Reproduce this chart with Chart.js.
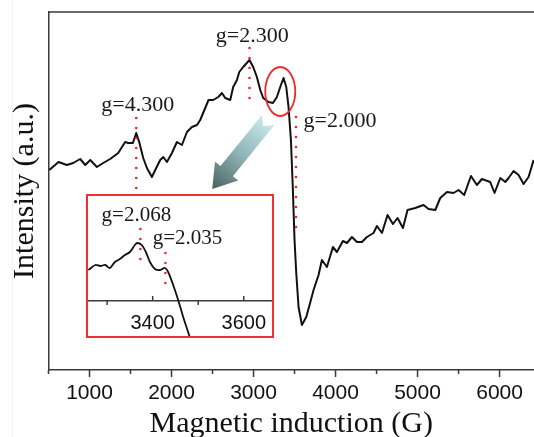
<!DOCTYPE html>
<html lang="en">
<head>
  <meta charset="UTF-8" />
  <title>EPR spectrum</title>
  <script src="https://cdn.jsdelivr.net/npm/chart.js"></script>
  <style>
    html, body { margin:0; padding:0; background:#fff; }
    #wrap { position:relative; width:534px; height:437px; overflow:hidden; }
    #mainChart { position:absolute; left:0; top:0; }
    #edge { position:absolute; left:12px; top:0; width:1px; height:437px; background:#f3f3f3; }
    #insetBox {
      position:absolute; left:86px; top:194px;
      width:184px; height:140px;
      border:2px solid #f03030; background:#fff;
    }
    #insetChart { display:block; }
  </style>
</head>
<body>
  <div id="wrap">
    <div id="edge"></div>
    <canvas id="mainChart" width="534" height="437"></canvas>
    <div id="insetBox"><canvas id="insetChart" width="184" height="140"></canvas></div>
  </div>

  <script>
    // spectrum (field in G, intensity in a.u.)
    const fieldG = [510, 622, 724, 801, 887, 948, 1009, 1090, 1167, 1252,
      1350, 1435, 1472, 1529, 1570, 1606, 1655, 1700, 1761, 1801,
      1862, 1899, 1944, 2005, 2066, 2127, 2188, 2249, 2310, 2350,
      2411, 2451, 2509, 2570, 2615, 2655, 2716, 2752, 2798, 2826,
      2874, 2951, 2996, 3041, 3082, 3118, 3183, 3237, 3285, 3334,
      3366, 3399, 3427, 3456, 3480, 3500, 3521, 3549, 3590, 3643,
      3690, 3732, 3793, 3834, 3895, 3968, 4017, 4090, 4139, 4200,
      4261, 4322, 4383, 4463, 4505, 4566, 4634, 4700, 4756, 4822,
      4878, 4972, 5073, 5134, 5216, 5277, 5359, 5439, 5500, 5569,
      5651, 5724, 5785, 5886, 5939, 6009, 6070, 6110, 6171, 6232,
      6293, 6354, 6415];
    const intensity = [200, 208, 205, 207, 211, 205, 210, 203, 207, 211,
      217, 228, 227, 227, 237, 228, 212, 202, 193, 200,
      210, 213, 208, 217, 228, 225, 238, 243, 245, 250,
      262, 270, 270, 273, 277, 272, 270, 283, 290, 298,
      303, 310, 303, 293, 280, 272, 268, 267, 273, 285,
      292, 283, 263, 230, 180, 130, 97, 63, 45, 53,
      67, 80, 95, 110, 103, 123, 118, 129, 127, 133,
      128, 128, 133, 137, 144, 137, 155, 146, 152, 142,
      160, 162, 165, 161, 160, 172, 178, 177, 180, 175,
      194, 185, 191, 188, 177, 192, 188, 192, 199, 195,
      186, 193, 210];

    // zoomed region around 3400 G
    const insetFieldG = [3259, 3274, 3285, 3296, 3306, 3317, 3328, 3339, 3350, 3361,
      3366, 3376, 3385, 3394, 3405, 3416, 3427, 3434, 3445, 3456, 3467, 3480, 3490];
    const insetIntensity = [31, 36, 35, 36, 33, 39, 42, 46, 49, 56,
      58, 56, 49, 39, 32, 31, 33, 29, 16, 1, -16, -34, -48];

    const xTickLabels = [1000, 2000, 3000, 4000, 5000, 6000];
    const xMinorTicks = [500, 1500, 2500, 3500, 4500, 5500];
    const insetTickLabels = [3400, 3600];
    const insetMinorTicks = [3300, 3500];

    const markerG = [1570, 2951, 3518];
    const markerLabels = ['g=4.300', 'g=2.300', 'g=2.000'];
    const insetMarkerG = [3373, 3428];
    const insetMarkerLabels = ['g=2.068', 'g=2.035'];

    // placement of the annotations (a.u. extents of dotted lines, label offsets)
    const mainAnnot = {
      lineFrom: [252, 322, 253], lineTo: [175, 267, 142],
      labelDx: [1.5, 2.7, 44], labelY: [265, 333.5, 249],
      font: '22px "Liberation Serif"'
    };
    const insetAnnot = {
      lineFrom: [72, 48], lineTo: [39, 16],
      labelDx: [-4, 22], labelY: [86, 63],
      font: '21px "Liberation Serif"'
    };

    const AXIS = '#3a3a3a';
    const RED = '#f02828';

    function setTicks(major, minor) {
      return s => {
        s.ticks = major.concat(minor).sort((a, b) => a - b).map(v => ({ value: v }));
      };
    }

    function drawDots(ctx, x, y1, y2) {
      ctx.fillStyle = RED;
      for (let y = Math.min(y1, y2); y <= Math.max(y1, y2); y += 10) {
        ctx.beginPath(); ctx.arc(x, y, 1.3, 0, Math.PI * 2); ctx.fill();
      }
    }

    function drawMarkers(chart, gs, labels, a) {
      const ctx = chart.ctx, sx = chart.scales.x, sy = chart.scales.y;
      ctx.save();
      gs.forEach((g, i) => {
        const px = sx.getPixelForValue(g);
        drawDots(ctx, px, sy.getPixelForValue(a.lineFrom[i]), sy.getPixelForValue(a.lineTo[i]));
        ctx.fillStyle = '#1a1a1a';
        ctx.font = a.font;
        ctx.textAlign = 'center';
        ctx.textBaseline = 'middle';
        ctx.fillText(labels[i], px + a.labelDx[i], sy.getPixelForValue(a.labelY[i]));
      });
      ctx.restore();
    }

    // tick marks: major/minor with own length and direction
    const tickMarks = {
      id: 'tickMarks',
      afterDraw(chart, args, o) {
        const sc = chart.scales.x, ctx = chart.ctx, y0 = chart.chartArea.bottom;
        ctx.save();
        ctx.strokeStyle = AXIS; ctx.lineWidth = 1.5;
        sc.ticks.forEach(t => {
          const major = o.labels.includes(t.value);
          const px = sc.getPixelForValue(t.value);
          ctx.beginPath();
          ctx.moveTo(px, y0);
          ctx.lineTo(px, y0 + (major ? o.major : o.minor));
          ctx.stroke();
        });
        ctx.restore();
      }
    };

    const mainDecor = {
      id: 'mainDecor',
      afterDatasetsDraw(chart) {
        const ctx = chart.ctx, sx = chart.scales.x, sy = chart.scales.y, ca = chart.chartArea;
        // top frame
        ctx.save();
        ctx.strokeStyle = AXIS; ctx.lineWidth = 1.5;
        ctx.beginPath(); ctx.moveTo(ca.left, ca.top); ctx.lineTo(ca.right, ca.top); ctx.stroke();

        // red ellipse around the 3350 G feature
        ctx.strokeStyle = RED; ctx.lineWidth = 1.8;
        ctx.beginPath();
        ctx.ellipse(sx.getPixelForValue(3326), sy.getPixelForValue(278.5), 15, 24.5, 0, 0, Math.PI * 2);
        ctx.stroke();

        // gradient arrow pointing to the inset
        const tx = sx.getPixelForValue(3179), ty = sy.getPixelForValue(250);
        const px = sx.getPixelForValue(2496), py = sy.getPixelForValue(181);
        const len = Math.hypot(px - tx, py - ty);
        const ux = (px - tx) / len, uy = (py - ty) / len;
        const nx = -uy, ny = ux;
        const w = 8, hw = 15, hl = 23, notch = 8;
        const bx = px - ux * hl, by = py - uy * hl;
        const grad = ctx.createLinearGradient(tx, ty, px, py);
        grad.addColorStop(0, '#c8eaec');
        grad.addColorStop(0.5, '#8fb4b6');
        grad.addColorStop(1, '#4c6161');
        ctx.fillStyle = grad;
        ctx.beginPath();
        ctx.moveTo(tx + nx * w, ty + ny * w);
        ctx.lineTo(tx + ux * notch, ty + uy * notch);
        ctx.lineTo(tx - nx * w, ty - ny * w);
        ctx.lineTo(bx - nx * w, by - ny * w);
        ctx.lineTo(bx - nx * hw, by - ny * hw);
        ctx.lineTo(px, py);
        ctx.lineTo(bx + nx * hw, by + ny * hw);
        ctx.lineTo(bx + nx * w, by + ny * w);
        ctx.closePath();
        ctx.fill();
        ctx.restore();

        drawMarkers(chart, markerG, markerLabels, mainAnnot);
      }
    };

    const insetDecor = {
      id: 'insetDecor',
      afterDatasetsDraw(chart) {
        drawMarkers(chart, insetMarkerG, insetMarkerLabels, insetAnnot);
      }
    };

    new Chart(document.getElementById('mainChart'), {
      type: 'line',
      data: {
        datasets: [{
          data: fieldG.map((g, i) => ({ x: g, y: intensity[i] })),
          borderColor: '#111',
          borderWidth: 2,
          pointRadius: 0,
          tension: 0,
          borderJoinStyle: 'round'
        }]
      },
      options: {
        responsive: false,
        animation: false,
        layout: { padding: { top: 12, right: 0, left: 0, bottom: 0 } },
        plugins: {
          legend: { display: false },
          tooltip: { enabled: false },
          tickMarks: { labels: xTickLabels, major: 7, minor: 4 }
        },
        scales: {
          x: {
            type: 'linear',
            min: 500, max: 6420,
            afterBuildTicks: setTicks(xTickLabels, xMinorTicks),
            afterFit: s => { s.height = 67; s.paddingLeft = 0; s.paddingRight = 0; },
            grid: { display: false, drawTicks: false },
            border: { display: true, color: AXIS, width: 1.5 },
            ticks: {
              autoSkip: false, maxRotation: 0, padding: 11, color: '#111',
              font: { family: 'Liberation Sans', size: 21 },
              callback: v => xTickLabels.includes(v) ? String(v) : ''
            },
            title: {
              display: true, text: 'Magnetic induction (G)', color: '#111',
              font: { family: 'Liberation Serif', size: 30, lineHeight: 1 },
              padding: { top: 0, bottom: -2 }
            }
          },
          y: {
            min: 0, max: 358,
            afterFit: s => { s.width = 48.5; },
            grid: { display: false, drawTicks: false },
            border: { display: true, color: AXIS, width: 1.5 },
            ticks: { display: false },
            title: {
              display: true, text: 'Intensity (a.u.)', color: '#111',
              font: { family: 'Liberation Serif', size: 30, lineHeight: 1 },
              padding: { top: 10, bottom: 0 }
            }
          }
        }
      },
      plugins: [tickMarks, mainDecor]
    });

    new Chart(document.getElementById('insetChart'), {
      type: 'line',
      data: {
        datasets: [{
          data: insetFieldG.map((g, i) => ({ x: g, y: insetIntensity[i] })),
          borderColor: '#111',
          borderWidth: 1.8,
          pointRadius: 0,
          tension: 0.3,
          clip: false
        }]
      },
      options: {
        responsive: false,
        animation: false,
        layout: { padding: 0 },
        plugins: {
          legend: { display: false },
          tooltip: { enabled: false },
          tickMarks: { labels: insetTickLabels, major: -5, minor: 4 }
        },
        scales: {
          x: {
            type: 'linear',
            min: 3258, max: 3662,
            afterBuildTicks: setTicks(insetTickLabels, insetMinorTicks),
            afterFit: s => { s.height = 35; s.paddingLeft = 0; s.paddingRight = 0; },
            grid: { display: false, drawTicks: false },
            border: { display: true, color: AXIS, width: 1.5 },
            ticks: {
              autoSkip: false, maxRotation: 0, padding: 10, color: '#111',
              font: { family: 'Liberation Sans', size: 20 },
              callback: v => insetTickLabels.includes(v) ? String(v) : ''
            }
          },
          y: { display: false, min: 0, max: 105 }
        }
      },
      plugins: [tickMarks, insetDecor]
    });
  </script>
</body>
</html>
